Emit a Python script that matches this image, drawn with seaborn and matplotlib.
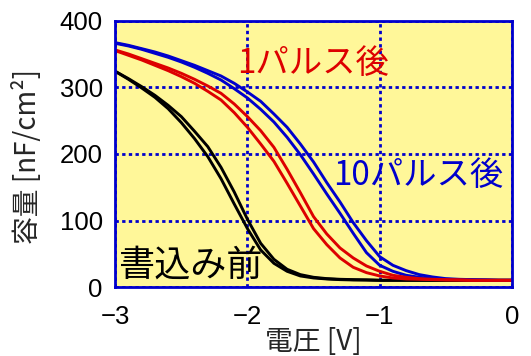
import pandas as pd
import seaborn as sns
import matplotlib.pyplot as plt

# voltage grid [V]
volt = [-3.0, -2.9, -2.8, -2.7, -2.6, -2.5, -2.4, -2.3, -2.2, -2.1, -2.0,
        -1.9, -1.8, -1.7, -1.6, -1.5, -1.4, -1.3, -1.2, -1.1, -1.0,
        -0.9, -0.8, -0.7, -0.6, -0.5, -0.4, -0.3, -0.2, -0.1, 0.0]

# capacitance [nF/cm2], two sweeps per state
before_a = [324, 312, 299, 285, 268, 247, 223, 196, 163, 125, 88,
            56, 36, 24, 17, 14, 12.5, 11.5, 11, 11, 10.5,
            10.5, 10.5, 10.5, 10.5, 10.5, 10.5, 10.5, 10.5, 10.5, 10.5]
before_b = [324, 313, 301, 288, 273, 256, 234, 211, 180, 143, 102,
            66, 42, 27, 19, 15, 13, 12, 11.5, 11, 10.5,
            10.5, 10.5, 10.5, 10.5, 10.5, 10.5, 10.5, 10.5, 10.5, 10.5]
pulse1_a = [355, 348, 341, 333, 325, 316, 306, 294, 281, 262, 240,
            215, 189, 156, 122, 88, 64, 44, 30, 22, 17,
            14, 12.5, 12, 11.5, 11, 11, 10.5, 10.5, 10.5, 10.5]
pulse1_b = [356, 350, 343, 336, 329, 321, 312, 302, 291, 275, 256,
            235, 210, 177, 142, 106, 80, 59, 44, 32, 24,
            18, 15, 13, 12, 11.5, 11, 10.5, 10.5, 10.5, 10.5]
pulse10_a = [366, 362, 357, 351, 345, 338, 330, 321, 311, 298, 284,
             267, 248, 225, 199, 170, 140, 111, 81, 52, 33,
             24, 18, 15, 13, 12, 11.5, 11, 11, 10.5, 10.5]
pulse10_b = [367, 363, 358, 353, 347, 340, 333, 325, 317, 306, 293,
             279, 260, 240, 215, 188, 157, 128, 97, 70, 46,
             33, 25, 19, 15.5, 13, 12, 11.5, 11, 10.5, 10.5]

curves = {'before_a': before_a, 'before_b': before_b,
          'pulse10_a': pulse10_a, 'pulse10_b': pulse10_b,
          'pulse1_a': pulse1_a, 'pulse1_b': pulse1_b}
df = pd.concat([pd.DataFrame({'V': volt, 'C': v, 'curve': k}) for k, v in curves.items()])

palette = {'before_a': 'black', 'before_b': 'black',
           'pulse1_a': '#dd0000', 'pulse1_b': '#dd0000',
           'pulse10_a': '#0000cc', 'pulse10_b': '#0000cc'}

sns.set_theme(style='white')
plt.rcParams['font.family'] = ['Liberation Sans', 'Noto Sans CJK JP', 'DejaVu Sans']
jp = ['Noto Sans CJK JP', 'DejaVu Sans']
blue = '#0000cc'

fig = plt.figure(figsize=(5.31, 3.56), dpi=100)
ax = fig.add_axes([0.217, 0.193, 0.747, 0.749])
ax.set_facecolor('#fff799')

sns.lineplot(data=df, x='V', y='C', hue='curve', palette=palette,
             units='curve', estimator=None, sort=False, lw=2.1,
             legend=False, ax=ax)

ax.set_xlim(-3, 0)
ax.set_ylim(0, 400)
ax.set_xticks([-3, -2, -1, 0])
ax.set_yticks([0, 100, 200, 300, 400])
ax.tick_params(length=0, labelsize=18.5, labelcolor='black')
ax.tick_params(axis='x', pad=13)
ax.tick_params(axis='y', pad=9)
ax.grid(True, color=blue, linestyle=(0, (1.2, 1.2)), lw=2)
ax.set_axisbelow(True)
for s in ax.spines.values():
    s.set_color(blue)
    s.set_linewidth(2)

ax.set_xlabel('電圧 [V]', fontsize=20, family=jp, va='center')
ax.xaxis.set_label_coords(0.5, -0.205)
ax.set_ylabel('容量 [nF/cm²]', fontsize=20, family=jp, va='center')
ax.yaxis.set_label_coords(-0.22, 0.49)

ax.text(-1.506, 336, '1パルス後', color='#dd0000', fontsize=24, family=jp,
        ha='center', va='center')
ax.text(-0.705, 168, '10パルス後', color=blue, fontsize=24, family=jp,
        ha='center', va='center')
ax.text(-2.434, 33, '書込み前', color='black', fontsize=26, family=jp,
        ha='center', va='center')

plt.savefig('out.png', dpi=100)
